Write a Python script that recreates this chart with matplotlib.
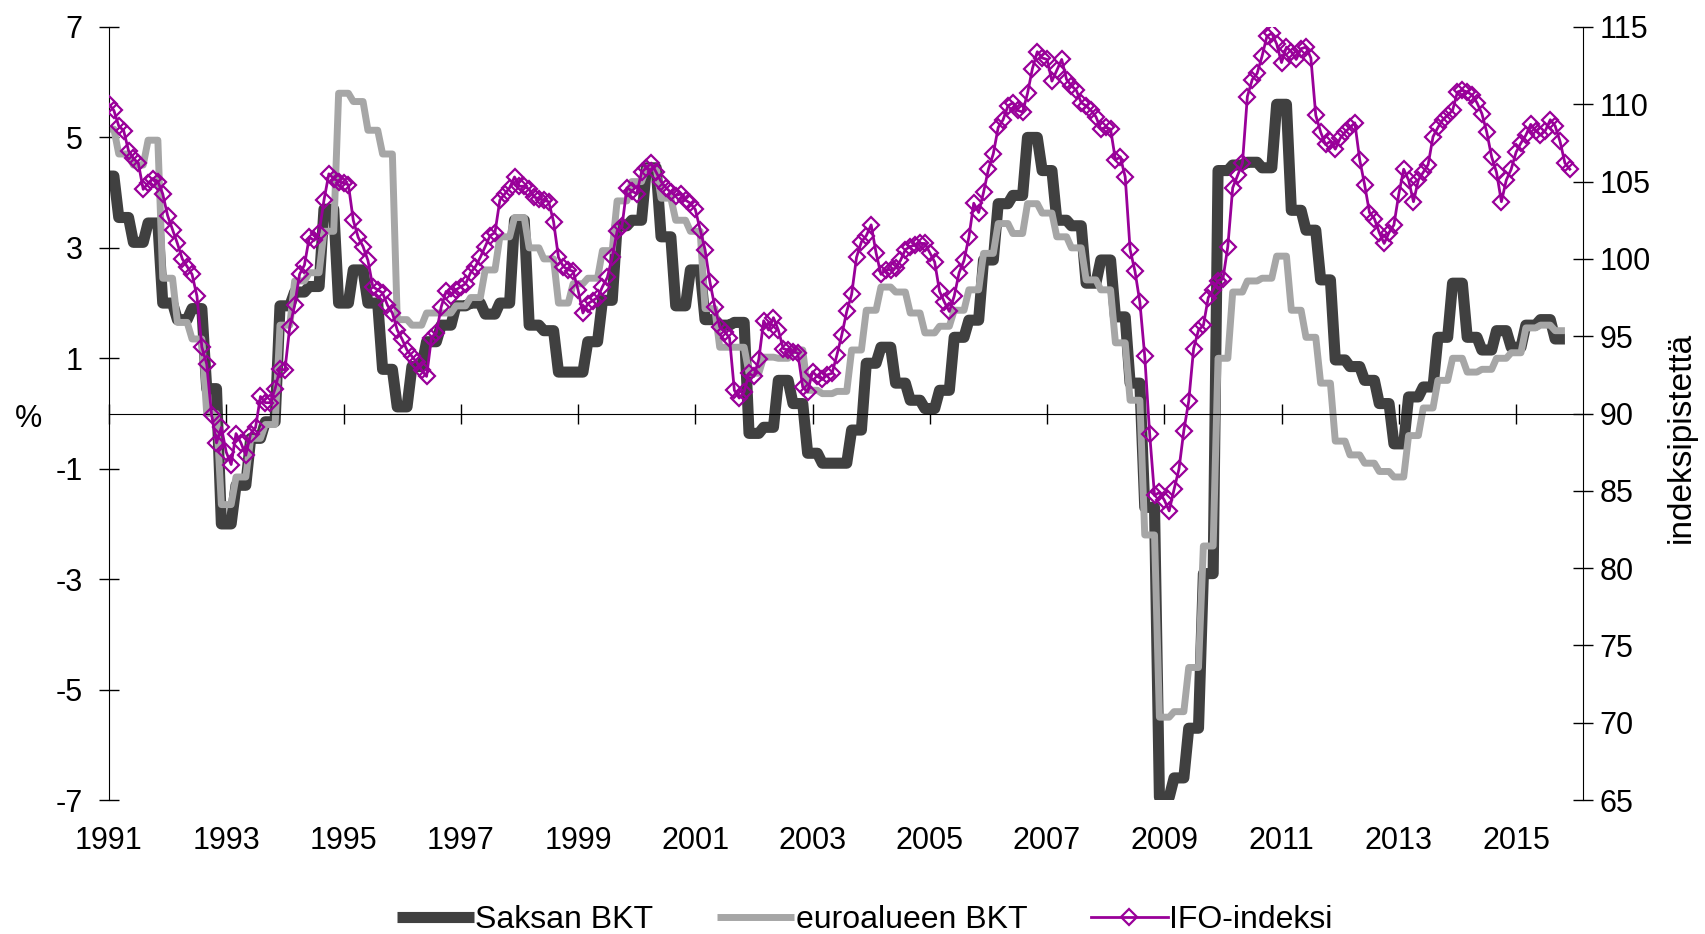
import numpy as np
import matplotlib
matplotlib.use('Agg')
import matplotlib.pyplot as plt

plt.rcParams['font.family'] = ['Liberation Sans', 'DejaVu Sans']
plt.rcParams['axes.unicode_minus'] = False

# x-axis labels (every second year)
years = ['1991', '1993', '1995', '1997', '1999', '2001', '2003', '2005',
         '2007', '2009', '2011', '2013', '2015']

# Saksan BKT, % y/y, quarterly 1991Q1-2015Q4
saksan_bkt = [4.3, 3.55, 3.1, 3.45,
              2.0, 1.7, 1.9, 0.45,
              -2.0, -1.3, -0.45, -0.15,
              1.95, 2.2, 2.3, 3.7,
              2.0, 2.6, 2.0, 0.8,
              0.12, 0.85, 1.3, 1.6,
              1.95, 2.0, 1.8, 2.0,
              3.5, 1.6, 1.5, 0.75,
              0.75, 1.3, 2.05, 3.4,
              3.5, 4.45, 3.2, 1.95,
              2.6, 1.7, 1.6, 1.65,
              -0.36, -0.25, 0.6, 0.18,
              -0.72, -0.9, -0.9, -0.3,
              0.91, 1.2, 0.55, 0.24,
              0.09, 0.42, 1.38, 1.69,
              2.78, 3.8, 3.95, 5.0,
              4.4, 3.5, 3.4, 2.36,
              2.78, 1.75, 0.55, -1.7,
              -6.95, -6.6, -5.7, -2.9,
              4.4, 4.5, 4.55, 4.45,
              5.6, 3.68, 3.32, 2.42,
              0.97, 0.85, 0.6, 0.18,
              -0.55, 0.3, 0.48, 1.38,
              2.36, 1.38, 1.15, 1.5,
              1.2, 1.6, 1.7, 1.35]

# euroalueen BKT, % y/y, quarterly 1991Q1-2015Q4
euro_bkt = [5.15, 4.7, 4.5, 4.95,
            2.45, 1.65, 1.35, 0.0,
            -1.65, -1.15, -0.45, -0.2,
            1.6, 2.4, 2.55, 3.3,
            5.8, 5.65, 5.13, 4.7,
            1.7, 1.6, 1.82, 1.82,
            1.95, 2.1, 2.6, 3.2,
            3.55, 3.0, 2.8, 2.0,
            2.35, 2.45, 2.95, 3.85,
            4.2, 4.45, 3.9, 3.5,
            3.3, 1.9, 1.2, 1.2,
            0.73, 1.02, 1.0, 1.15,
            0.42, 0.36, 0.4, 1.15,
            1.87, 2.29, 2.2, 1.82,
            1.46, 1.58, 1.87, 2.24,
            2.9, 3.44, 3.26, 3.8,
            3.63, 3.2, 3.0, 2.42,
            2.24, 1.28, 0.24, -2.2,
            -5.5, -5.4, -4.6, -2.4,
            1.0, 2.2, 2.4, 2.45,
            2.85, 1.87, 1.38, 0.55,
            -0.5, -0.75, -0.9, -1.05,
            -1.15, -0.4, 0.1, 0.6,
            1.0, 0.75, 0.8, 1.0,
            1.1, 1.55, 1.6, 1.5]

# IFO-indeksi, monthly 1991/01-2015/12
ifo = [110.0, 109.6, 108.6, 108.3, 107.0, 106.5, 106.2, 104.5, 104.9, 105.2, 105.0, 104.2,
       102.8, 101.9, 101.0, 100.0, 99.5, 99.0, 97.6, 94.3, 93.2, 89.9, 88.1, 89.1,
       87.5, 86.7, 88.7, 88.1, 87.3, 88.7, 89.1, 91.1, 90.7, 90.7, 91.6, 92.9,
       92.8, 95.6, 97.0, 99.0, 99.6, 101.4, 101.2, 101.7, 103.8, 105.5, 105.2, 105.0,
       104.9, 104.8, 102.5, 101.4, 100.8, 99.9, 98.2, 98.0, 97.8, 97.0, 96.5, 95.4,
       94.8, 94.1, 93.7, 93.3, 92.8, 92.4, 94.9, 95.2, 96.9, 97.9, 97.6, 98.0,
       98.2, 98.4, 99.1, 99.5, 100.1, 100.8, 101.5, 101.7, 103.8, 104.2, 104.6, 105.3,
       104.7, 104.7, 104.5, 104.0, 103.9, 103.8, 103.7, 102.4, 100.1, 99.5, 99.3, 99.2,
       98.0, 96.5, 97.1, 97.3, 97.5, 98.2, 98.8, 100.1, 101.8, 102.1, 104.6, 104.4,
       104.2, 105.6, 105.9, 106.2, 105.6, 105.0, 104.6, 104.3, 104.1, 104.2, 103.8, 103.6,
       103.2, 101.9, 100.6, 98.5, 96.9, 95.6, 95.3, 94.9, 91.5, 91.0, 91.4, 92.6,
       92.4, 93.5, 96.0, 95.4, 96.2, 95.4, 94.2, 94.1, 94.0, 93.9, 91.7, 91.4,
       92.7, 92.4, 92.2, 92.5, 92.6, 93.8, 95.1, 96.6, 97.7, 100.1, 101.1, 101.5,
       102.2, 100.4, 99.0, 99.3, 99.3, 99.4, 99.9, 100.6, 100.8, 100.9, 101.0, 101.0,
       100.4, 99.8, 97.9, 97.2, 96.6, 97.6, 99.1, 99.9, 101.4, 103.6, 103.0, 104.3,
       105.8, 106.8, 108.5, 109.0, 109.9, 110.1, 109.6, 109.5, 110.7, 112.3, 113.4, 113.0,
       112.9, 111.5, 112.2, 112.9, 111.6, 111.2, 110.9, 110.1, 109.9, 109.6, 109.2, 108.4,
       108.5, 108.4, 106.4, 106.6, 105.3, 100.6, 99.2, 97.2, 93.7, 88.7, 84.7, 84.9,
       84.4, 83.7, 85.1, 86.4, 88.9, 90.8, 94.2, 95.4, 95.7, 97.5, 98.0, 98.6,
       98.7, 100.8, 104.6, 105.4, 106.2, 110.5, 111.6, 112.0, 113.1, 114.4, 114.6, 113.9,
       112.7, 113.7, 113.4, 112.9, 113.6, 113.7, 113.0, 109.3, 108.2, 107.4, 107.6, 107.1,
       107.8, 108.2, 108.5, 108.8, 106.4, 104.8, 103.0, 102.6, 101.7, 101.0, 101.7, 102.2,
       104.2, 105.8, 105.1, 103.7, 105.1, 105.6, 106.1, 107.9, 108.5, 109.0, 109.3, 109.6,
       110.8, 110.9, 110.8, 110.6, 110.1, 109.4, 108.2, 106.6, 105.6, 103.7, 105.1, 105.8,
       106.9, 107.5, 108.0, 108.7, 108.3, 108.0, 108.3, 109.0, 108.6, 107.6, 106.2, 105.8]

# quarterly figures are drawn on the monthly axis (each quarter held for three months)
saksan_m = np.repeat(saksan_bkt, 3)[1:]
euro_m = np.repeat(euro_bkt, 3)[1:]
kk_bkt = np.arange(len(saksan_m))
kk_ifo = np.arange(len(ifo))
year_pos = np.arange(len(years)) * 24

fs = 22

fig = plt.figure(figsize=(17.06, 9.34), dpi=100)
ax = fig.add_axes([109 / 1706, 134 / 934, 1474 / 1706, 773 / 934])

l1, = ax.plot(kk_bkt, saksan_m, color='#404040', lw=8, solid_joinstyle='round',
              solid_capstyle='butt', label='Saksan BKT')
l2, = ax.plot(kk_bkt, euro_m, color='#a6a6a6', lw=5, solid_joinstyle='round',
              solid_capstyle='butt', label='euroalueen BKT')
ax.set_ylim(-7, 7)
ax.set_yticks(range(-7, 8, 2))
ax.set_xlim(0, 301.7)
ax.set_xticks(year_pos)
ax.set_xticklabels([])
ax.spines['top'].set_visible(False)
ax.spines['right'].set_visible(False)
ax.spines['bottom'].set_position(('data', 0))
ax.tick_params(axis='y', direction='inout', length=13.7, width=1, labelsize=fs, pad=12)
ax.tick_params(axis='x', direction='inout', length=14, width=1)

# year labels below the plot area
sec = ax.secondary_xaxis('bottom')
sec.set_xticks(year_pos)
sec.set_xticklabels(years)
sec.tick_params(length=0, labelsize=fs, pad=19)
sec.spines['bottom'].set_visible(False)

ax2 = ax.twinx()
l3, = ax2.plot(kk_ifo, ifo, color='#990099', lw=2, marker='D', ms=8.5,
               mfc='none', mec='#990099', mew=1.6, label='IFO-indeksi')
ax2.set_ylim(65, 115)
ax2.set_yticks(range(65, 116, 5))
for s in ['top', 'bottom', 'left']:
    ax2.spines[s].set_visible(False)
ax2.tick_params(axis='y', direction='inout', length=13.7, width=1, labelsize=fs, pad=5)

fig.text(29 / 1706, 1 - 419 / 934, '%', ha='center', va='center', fontsize=fs)
fig.text(1681 / 1706, 1 - 437 / 934, 'indeksipistettä', ha='center', va='center',
         rotation=90, fontsize=24)

fig.legend([l1, l2, l3], ['Saksan BKT', 'euroalueen BKT', 'IFO-indeksi'],
           loc='center', bbox_to_anchor=(0.507, 1 - 920 / 934), ncol=3, frameon=False,
           fontsize=23, handlelength=2.4, handletextpad=0.05, columnspacing=2.0)

fig.savefig('out.png', dpi=100)
